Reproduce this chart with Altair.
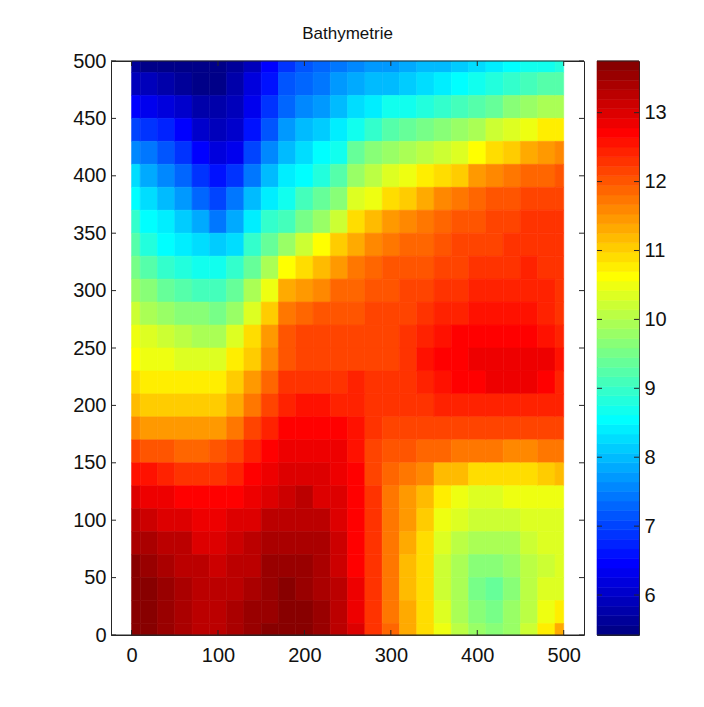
import altair as alt
import pandas as pd

FONT = "Liberation Sans"
title_text = "Bathymetrie"
x_ticks = [0, 100, 200, 300, 400, 500]
y_ticks = [0, 50, 100, 150, 200, 250, 300, 350, 400, 450, 500]
cbar_ticks = [6, 7, 8, 9, 10, 11, 12, 13]
value_min, value_max = 5.42, 13.75
n_levels = 60

# one list per x position, y running 500, 480, ... 0
rows_y = list(range(500, -1, -20))
columns_x = list(range(0, 501, 20))
depth = [
    [5.65,5.95,6.4,6.95,7.6,8.2,8.6,8.95,9.2,9.5,9.85,10.15,10.45,10.6,10.85,11.15,11.55,12.1,12.6,12.95,13.2,13.45,13.65,13.75,13.75,13.7],
    [5.55,5.85,6.35,6.85,7.4,7.9,8.3,8.6,8.85,9.25,9.6,10.0,10.35,10.55,10.8,11.1,11.5,12.05,12.6,12.9,13.15,13.4,13.55,13.65,13.7,13.7],
    [5.5,5.75,6.2,6.7,7.15,7.6,8.0,8.35,8.6,9.0,9.4,9.8,10.2,10.45,10.75,11.05,11.45,11.95,12.45,12.8,13.05,13.3,13.45,13.5,13.5,13.5],
    [5.45,5.65,6.0,6.45,6.85,7.3,7.75,8.1,8.4,8.85,9.25,9.7,10.1,10.4,10.75,11.05,11.45,11.9,12.35,12.7,12.95,13.2,13.3,13.35,13.4,13.4],
    [5.42,5.55,5.8,6.1,6.4,6.85,7.35,7.85,8.25,8.75,9.15,9.6,10.0,10.35,10.7,11.05,11.45,11.9,12.3,12.65,12.85,13.05,13.25,13.3,13.3,13.3],
    [5.45,5.55,5.75,5.95,6.2,6.55,7.0,7.5,8.1,8.65,9.1,9.5,9.9,10.4,10.8,11.1,11.5,11.95,12.35,12.7,12.9,13.05,13.15,13.25,13.3,13.3],
    [5.6,5.75,5.9,6.1,6.35,6.85,7.4,7.9,8.25,8.9,9.35,9.85,10.4,10.75,11.0,11.3,11.7,12.15,12.5,12.75,12.95,13.1,13.2,13.3,13.4,13.4],
    [5.95,6.15,6.35,6.6,6.95,7.45,8.0,8.45,8.9,9.4,9.95,10.35,10.85,11.1,11.4,11.75,12.1,12.45,12.65,12.85,13.05,13.2,13.3,13.45,13.5,13.5],
    [6.4,6.65,6.9,7.15,7.6,8.05,8.45,8.9,9.4,9.95,10.45,11.0,11.4,11.6,11.85,12.1,12.45,12.7,12.8,13.05,13.2,13.35,13.5,13.55,13.6,13.65],
    [6.85,7.1,7.35,7.65,8.05,8.45,8.65,9.15,9.85,10.6,11.3,11.75,11.95,12.05,12.3,12.5,12.7,12.8,12.95,13.15,13.3,13.4,13.55,13.65,13.72,13.75],
    [7.1,7.35,7.6,7.95,8.3,8.6,9.05,9.55,10.2,10.95,11.5,11.85,12.1,12.2,12.35,12.6,12.75,12.85,13.0,13.2,13.3,13.4,13.55,13.6,13.65,13.68],
    [7.25,7.5,7.75,8.15,8.5,8.85,9.35,9.85,10.6,11.15,11.6,11.95,12.15,12.2,12.35,12.55,12.75,12.85,12.95,13.05,13.3,13.35,13.4,13.45,13.5,13.5],
    [7.4,7.65,8.0,8.4,8.75,9.2,9.6,10.25,11.0,11.45,11.85,12.05,12.15,12.2,12.25,12.45,12.65,12.8,12.85,12.95,13.05,13.1,13.15,13.2,13.25,13.25],
    [7.55,7.85,8.2,8.7,9.35,9.85,10.3,10.85,11.35,11.7,11.9,12.05,12.15,12.2,12.4,12.5,12.6,12.6,12.65,12.7,12.7,12.75,12.75,12.8,12.85,12.95],
    [7.65,7.95,8.35,9.0,9.6,10.1,10.55,11.2,11.65,11.85,12.0,12.1,12.15,12.2,12.3,12.3,12.3,12.2,12.2,12.25,12.25,12.25,12.25,12.25,12.3,12.35],
    [7.75,8.05,8.65,9.3,9.75,10.35,10.85,11.5,11.8,11.95,12.05,12.15,12.2,12.2,12.25,12.25,12.15,12.0,11.9,11.8,11.8,11.75,11.75,11.75,11.8,11.85],
    [7.85,8.15,8.7,9.35,9.95,10.55,11.1,11.6,11.85,12.0,12.1,12.2,12.3,12.3,12.25,12.25,12.15,11.95,11.75,11.5,11.4,11.3,11.25,11.25,11.3,11.35],
    [7.95,8.3,8.85,9.5,10.1,10.75,11.35,11.75,11.9,12.05,12.15,12.3,12.45,12.55,12.4,12.3,12.15,11.9,11.55,11.25,11.1,10.95,10.85,10.85,10.9,10.95],
    [8.05,8.4,9.0,9.65,10.25,10.9,11.55,11.85,12.0,12.15,12.25,12.4,12.55,12.65,12.55,12.4,12.15,11.85,11.2,10.75,10.45,10.3,10.25,10.25,10.3,10.45],
    [8.15,8.55,9.15,9.85,10.4,11.1,11.7,11.95,12.1,12.2,12.35,12.5,12.65,12.75,12.65,12.45,12.15,11.8,11.2,10.5,10.3,10.1,9.95,9.9,9.95,10.05],
    [8.25,8.7,9.3,10.0,10.6,11.4,11.85,12.05,12.15,12.25,12.4,12.55,12.7,12.8,12.75,12.45,12.15,11.75,10.95,10.4,10.2,9.95,9.65,9.55,9.6,9.8],
    [8.4,8.85,9.4,10.15,10.85,11.6,11.95,12.1,12.2,12.3,12.45,12.55,12.75,12.85,12.8,12.45,12.1,11.7,10.9,10.4,10.15,9.95,9.6,9.4,9.55,9.7],
    [8.5,9.0,9.6,10.35,11.1,11.75,12.0,12.15,12.25,12.35,12.45,12.55,12.75,12.85,12.8,12.45,12.1,11.65,10.9,10.45,10.2,10.0,9.8,9.7,9.75,9.85],
    [8.65,9.15,9.8,10.55,11.3,11.85,12.1,12.25,12.3,12.4,12.45,12.55,12.7,12.85,12.8,12.45,12.1,11.65,10.95,10.5,10.3,10.15,10.05,10.05,10.1,10.25],
    [8.75,9.25,9.95,10.7,11.5,11.9,12.2,12.25,12.3,12.35,12.4,12.5,12.6,12.8,12.75,12.45,12.1,11.7,11.05,10.55,10.4,10.3,10.25,10.3,10.45,10.7],
    [8.85,9.3,10.0,10.75,11.6,11.95,12.15,12.25,12.3,12.3,12.3,12.3,12.4,12.6,12.5,12.4,12.1,11.75,11.15,10.5,10.35,10.3,10.35,10.4,10.7,11.3],
]


def jet(n):
    out = []
    for i in range(n):
        t = (i + 0.5) / n
        chan = [min(max(min(4 * t - a, b - 4 * t), 0), 1) for a, b in ((1.5, 4.5), (0.5, 3.5), (-0.5, 2.5))]
        out.append("#%02x%02x%02x" % tuple(round(c * 255) for c in chan))
    return out


colors = jet(n_levels)
color_scale = alt.Scale(type="quantize", domain=[value_min, value_max], range=colors)

cells = pd.DataFrame(
    [
        {
            "x0": max(x - 10, 0), "x1": min(x + 10, 500),
            "y0": max(y - 10, 0), "y1": min(y + 10, 500),
            "z": v,
        }
        for x, col in zip(columns_x, depth)
        for y, v in zip(rows_y, col)
    ]
)

W, H = 473, 574
x_scale = alt.Scale(domain=[-23.8, 523.5], nice=False, zero=False)
y_scale = alt.Scale(domain=[0, 500], nice=False, zero=False)
line = "#262626"
TL = 5
FS = 20

x_axis = alt.Axis(values=x_ticks, tickSize=0, domain=False, grid=False, labelFont=FONT, title=None,
                  labelFontSize=FS, labelColor="#111111", labelPadding=10, format="d", labelFlush=False)
y_axis = alt.Axis(values=y_ticks, tickSize=0, domain=False, grid=False, labelFont=FONT, title=None,
                  labelFontSize=FS, labelColor="#111111", labelPadding=5, format="d", labelFlush=False)

x_df = pd.DataFrame({"v": x_ticks})
y_df = pd.DataFrame({"v": y_ticks})

heat = alt.Chart(cells).mark_rect(strokeWidth=0.6).encode(
    x=alt.X("x0:Q", scale=x_scale, axis=x_axis),
    x2="x1:Q",
    y=alt.Y("y0:Q", scale=y_scale, axis=y_axis),
    y2="y1:Q",
    color=alt.Color("z:Q", scale=color_scale, legend=None),
    stroke=alt.Stroke("z:Q", scale=color_scale, legend=None),
)

rule = alt.Chart(x_df).mark_rule(color=line, strokeWidth=1)
x_bot = rule.encode(x=alt.X("v:Q", scale=x_scale, axis=x_axis), y=alt.value(H), y2=alt.value(H - TL))
x_top = rule.encode(x=alt.X("v:Q", scale=x_scale, axis=x_axis), y=alt.value(0), y2=alt.value(TL))
rule_y = alt.Chart(y_df).mark_rule(color=line, strokeWidth=1)
y_left = rule_y.encode(y=alt.Y("v:Q", scale=y_scale, axis=y_axis), x=alt.value(0), x2=alt.value(TL))
y_right = rule_y.encode(y=alt.Y("v:Q", scale=y_scale, axis=y_axis), x=alt.value(W), x2=alt.value(W - TL))
edge = pd.DataFrame({"k": ["edge"]})
top_edge = alt.Chart(edge).mark_rule(color=line, strokeWidth=1).encode(x=alt.value(0), x2=alt.value(W), y=alt.value(0))
bot_edge = alt.Chart(edge).mark_rule(color=line, strokeWidth=1).encode(x=alt.value(0), x2=alt.value(W), y=alt.value(H))

main = alt.layer(heat, x_bot, x_top, y_left, y_right, top_edge, bot_edge).properties(
    width=W, height=H,
    title=alt.TitleParams(title_text, font=FONT, fontSize=17, fontWeight="normal", color="#111111",
                          anchor="middle", offset=8),
)

# colour bar
step = (value_max - value_min) / n_levels
bands = pd.DataFrame(
    {
        "lo": [value_min + i * step for i in range(n_levels)],
        "hi": [value_min + (i + 1) * step for i in range(n_levels)],
        "mid": [value_min + (i + 0.5) * step for i in range(n_levels)],
    }
)
c_scale_y = alt.Scale(domain=[value_min, value_max], nice=False, zero=False)
c_axis = alt.Axis(orient="right", values=cbar_ticks, tickSize=0, domain=False, grid=False, labelFont=FONT, title=None,
                  labelFontSize=FS, labelColor="#111111", labelPadding=5, format="d", labelFlush=False)
CW = 42
cbar_rect = alt.Chart(bands).mark_rect(strokeWidth=0.6).encode(
    y=alt.Y("lo:Q", scale=c_scale_y, axis=c_axis),
    y2="hi:Q",
    x=alt.value(0),
    x2=alt.value(CW),
    color=alt.Color("mid:Q", scale=color_scale, legend=None),
    stroke=alt.Stroke("mid:Q", scale=color_scale, legend=None),
)
c_df = pd.DataFrame({"v": cbar_ticks})
c_rule = alt.Chart(c_df).mark_rule(color=line, strokeWidth=1)
c_l = c_rule.encode(y=alt.Y("v:Q", scale=c_scale_y, axis=c_axis), x=alt.value(0), x2=alt.value(TL))
c_r = c_rule.encode(y=alt.Y("v:Q", scale=c_scale_y, axis=c_axis), x=alt.value(CW), x2=alt.value(CW - TL))
c_top = alt.Chart(edge).mark_rule(color=line, strokeWidth=1).encode(x=alt.value(0), x2=alt.value(CW), y=alt.value(0))
c_bot = alt.Chart(edge).mark_rule(color=line, strokeWidth=1).encode(x=alt.value(0), x2=alt.value(CW), y=alt.value(H))
cbar = alt.layer(cbar_rect, c_l, c_r, c_top, c_bot).properties(width=CW, height=H)

chart = (
    alt.hconcat(main, cbar, spacing=11)
    .resolve_scale(color="independent", stroke="independent", x="independent", y="independent")
    .properties(padding={"left": 64, "top": 16, "right": 5, "bottom": 5}, background="white")
    .configure_view(stroke=line, strokeWidth=1)
)
chart.save("out.html", embed_options={"renderer": "svg", "actions": False})
